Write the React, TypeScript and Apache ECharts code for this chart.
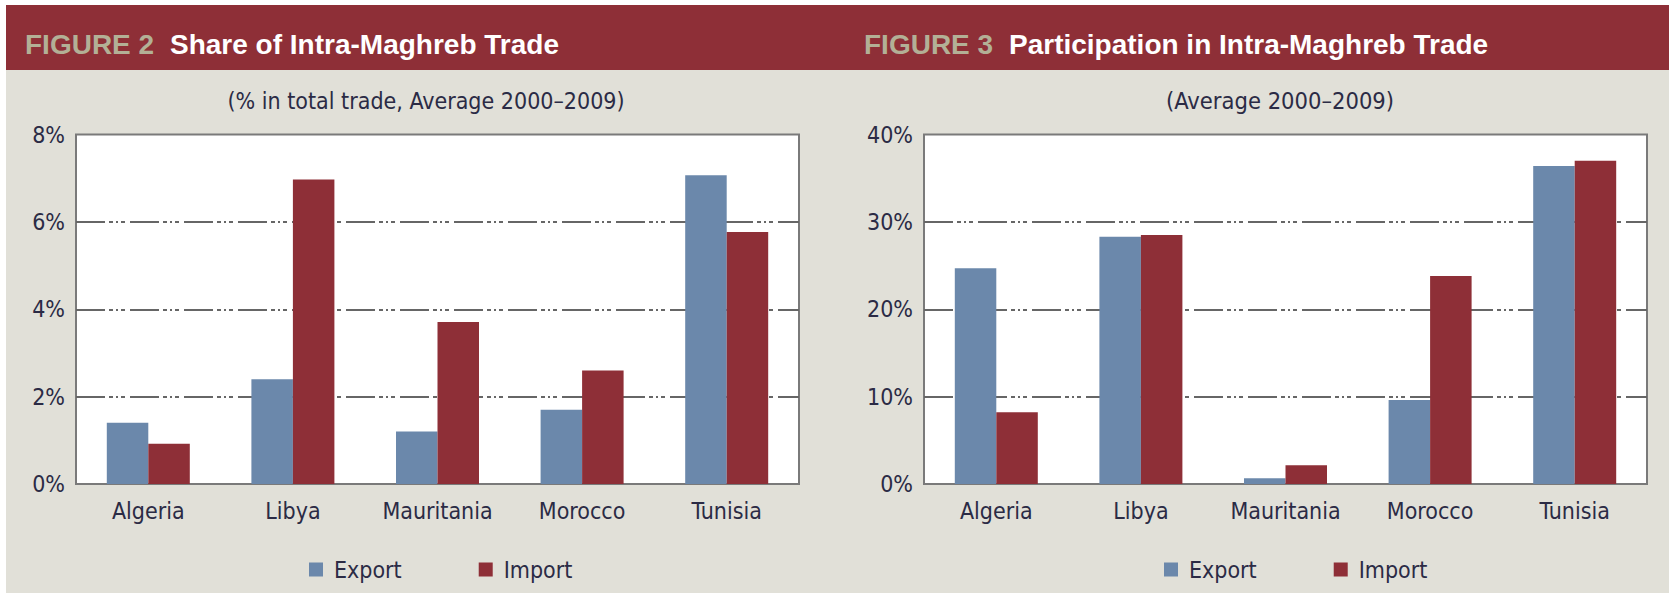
import React, { useEffect, useRef } from "react";
import * as echarts from "echarts";

const countries = ["Algeria", "Libya", "Mauritania", "Morocco", "Tunisia"];
const shareExport = [1.4, 2.4, 1.2, 1.7, 7.07];
const shareImport = [0.92, 6.97, 3.71, 2.6, 5.77];
const partExport = [24.7, 28.3, 0.65, 9.6, 36.4];
const partImport = [8.2, 28.5, 2.15, 23.8, 37.0];
const shareTicks = { min: 0, max: 8, interval: 2 };
const partTicks = { min: 0, max: 40, interval: 10 };

const NARROW = '"DejaVu Sans Condensed", "Liberation Sans Narrow", "Liberation Sans", sans-serif';
const BOLD = '"Liberation Sans", Arial, sans-serif';
const RED = "#8E2F37";
const BLUE = "#6B88AB";
const BG = "#E1E0D8";
const TXT = "#2B2B45";

export default function App() {
  const ref = useRef<HTMLDivElement>(null);
  useEffect(() => {
    if (!ref.current) return;
    const chart = echarts.init(ref.current, undefined, { renderer: "svg" });
    const dash = [29, 4, 4, 3, 2, 3, 4, 5];
    const mkY = (idx: number, t: any) => ({
      type: "value",
      gridIndex: idx,
      min: t.min,
      max: t.max,
      interval: t.interval,
      axisLine: { show: false },
      axisTick: { show: false },
      axisLabel: {
        formatter: "{value}%",
        fontFamily: NARROW,
        fontSize: 23,
        color: TXT,
        margin: 11,
      },
      splitLine: {
        show: true,
        showMinLine: false,
        showMaxLine: false,
        lineStyle: { color: "#666666", width: 2, type: dash },
      },
    });
    const mkX = (idx: number) => ({
      type: "category",
      gridIndex: idx,
      data: countries,
      axisLine: { show: false },
      axisTick: { show: false },
      axisLabel: { interval: 0, fontFamily: NARROW, fontSize: 23, color: TXT, margin: 15 },
    });
    const mkBar = (name: string, data: number[], idx: number, color: string) => ({
      type: "bar",
      name,
      data,
      xAxisIndex: idx,
      yAxisIndex: idx,
      barWidth: 41.5,
      barGap: "0%",
      itemStyle: { color },
    });
    const mkLegend = (left: number) => ({
      left,
      top: 553,
      orient: "horizontal",
      icon: "rect",
      itemWidth: 14,
      itemHeight: 14,
      itemGap: 77,
      data: ["Export", "Import"],
      textStyle: { fontFamily: NARROW, fontSize: 23, color: TXT, padding: [0, 0, 0, 6] },
    });
    const gridBase = { top: 134.5, height: 349.5, width: 723, show: true, backgroundColor: "#ffffff", borderColor: "#7a7a7a", borderWidth: 2 };
    chart.setOption({
      animation: false,
      backgroundColor: "#ffffff",
      grid: [
        { ...gridBase, left: 76 },
        { ...gridBase, left: 924 },
      ],
      xAxis: [mkX(0), mkX(1)],
      yAxis: [mkY(0, shareTicks), mkY(1, partTicks)],
      legend: [mkLegend(304), mkLegend(1159)],
      series: [
        mkBar("Export", shareExport, 0, BLUE),
        mkBar("Import", shareImport, 0, RED),
        mkBar("Export", partExport, 1, BLUE),
        mkBar("Import", partImport, 1, RED),
      ],
      graphic: [
        { type: "rect", z: -100, silent: true, shape: { x: 6, y: 70, width: 1663, height: 523 }, style: { fill: BG } },
        { type: "rect", z: -100, silent: true, shape: { x: 6, y: 5, width: 1663, height: 65 }, style: { fill: RED } },
        { type: "text", x: 25, y: 44, style: { text: "FIGURE 2", fontFamily: BOLD, fontWeight: "bold", fontSize: 28, fill: "#B3B096", verticalAlign: "middle" } },
        { type: "text", x: 170, y: 44, style: { text: "Share of Intra-Maghreb Trade", fontFamily: BOLD, fontWeight: "bold", fontSize: 28, fill: "#ffffff", verticalAlign: "middle" } },
        { type: "text", x: 864, y: 44, style: { text: "FIGURE 3", fontFamily: BOLD, fontWeight: "bold", fontSize: 28, fill: "#B3B096", verticalAlign: "middle" } },
        { type: "text", x: 1009, y: 44, style: { text: "Participation in Intra-Maghreb Trade", fontFamily: BOLD, fontWeight: "bold", fontSize: 28, fill: "#ffffff", verticalAlign: "middle" } },
        { type: "text", x: 426, y: 101, style: { text: "(% in total trade, Average 2000–2009)", fontFamily: NARROW, fontSize: 23, fill: TXT, align: "center", verticalAlign: "middle" } },
        { type: "text", x: 1280, y: 101, style: { text: "(Average 2000–2009)", fontFamily: NARROW, fontSize: 23.5, fill: TXT, align: "center", verticalAlign: "middle" } },
      ],
    });
    return () => chart.dispose();
  }, []);
  return <div ref={ref} style={{ position: "absolute", left: 0, top: 0, width: 1669, height: 593 }} />;
}
